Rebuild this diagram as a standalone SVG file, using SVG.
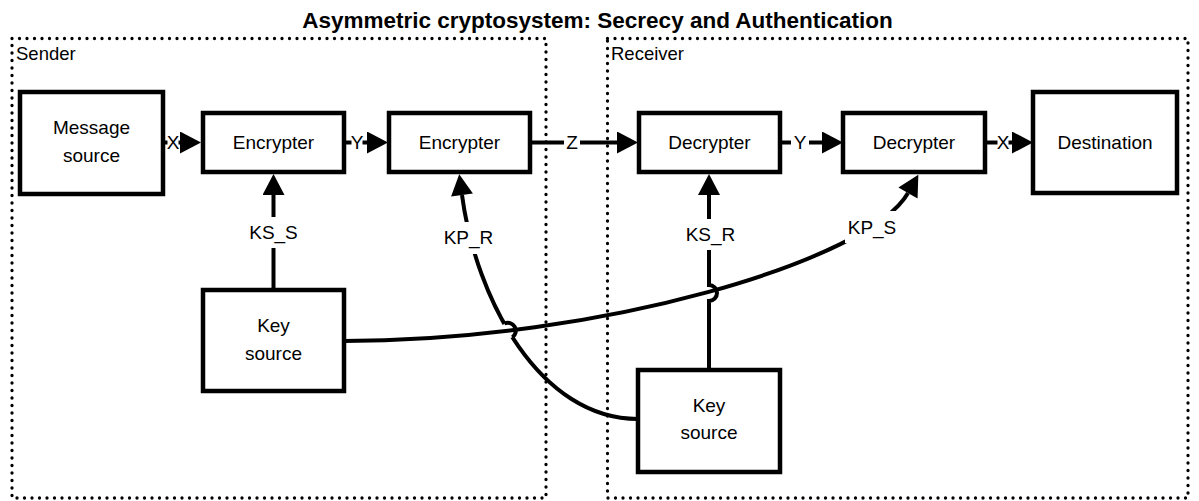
<svg xmlns="http://www.w3.org/2000/svg" width="1199" height="501" viewBox="0 0 1199 501">
<defs>
<style>
.box{fill:#fff;stroke:#000;stroke-width:4.5}
.zone{fill:none;stroke:#000;stroke-width:3.3;stroke-dasharray:0 7.5;stroke-linecap:round}
.lbl{font-family:"Liberation Sans",Arial,sans-serif;font-size:19px;fill:#000;text-anchor:middle}
.zl{font-family:"Liberation Sans",Arial,sans-serif;font-size:18.5px;fill:#000}
.title{font-family:"Liberation Sans",Arial,sans-serif;font-size:22.5px;font-weight:bold;fill:#000;text-anchor:middle}
.wire{fill:none;stroke:#000;stroke-width:4}
.bg{fill:#fff}
</style>
<marker id="ah" markerUnits="userSpaceOnUse" markerWidth="22" markerHeight="22" viewBox="0 0 21 22" refX="0" refY="11" orient="auto">
<path d="M0,0 L21,11 L0,22 z" fill="#000"/>
</marker>
<mask id="hopR" maskUnits="userSpaceOnUse" x="0" y="0" width="1199" height="501">
<rect x="0" y="0" width="1199" height="501" fill="#fff"/>
<circle cx="508.3" cy="330.4" r="7.8" fill="#000"/>
</mask>
</defs>
<rect width="1199" height="501" fill="#fff"/>
<text class="title" x="597.5" y="28">Asymmetric cryptosystem: Secrecy and Authentication</text>

<g id="sender">
<rect class="zone" x="12" y="38.5" width="534" height="459.5"/>
<text class="zl" x="16" y="60">Sender</text>
</g>
<g id="receiver">
<rect class="zone" x="607.5" y="38.5" width="580.5" height="459.5"/>
<text class="zl" x="611" y="60">Receiver</text>
</g>

<g id="connectors">
<line class="wire" x1="163" y1="142.5" x2="180" y2="142.5" marker-end="url(#ah)"/>
<line class="wire" x1="344" y1="142.5" x2="367" y2="142.5" marker-end="url(#ah)"/>
<line class="wire" x1="530" y1="142.5" x2="617" y2="142.5" marker-end="url(#ah)"/>
<line class="wire" x1="780" y1="142.5" x2="822" y2="142.5" marker-end="url(#ah)"/>
<line class="wire" x1="985" y1="142.5" x2="1012" y2="142.5" marker-end="url(#ah)"/>
<line class="wire" x1="273.5" y1="290" x2="273.5" y2="195" marker-end="url(#ah)"/>
<path class="wire" d="M709,370 L709,301 A8,8 0 0 0 709,285 L709,195" marker-end="url(#ah)"/>
<path class="wire" d="M344,341 C600,341 870,260 908,193" marker-end="url(#ah)"/>
<path class="wire" d="M638,419 C540,419 476,300 462,195" mask="url(#hopR)" marker-end="url(#ah)"/>
<path class="wire" d="M504.3,323.5 A8,8 0 0 1 512.3,337.3"/>
<rect class="bg" x="167.5" y="134" width="11" height="17"/>
<text class="lbl" x="173" y="149">X</text>
<rect class="bg" x="351.5" y="134" width="11" height="17"/>
<text class="lbl" x="357" y="149">Y</text>
<rect class="bg" x="564" y="134" width="16" height="17"/>
<text class="lbl" x="572" y="149">Z</text>
<rect class="bg" x="791" y="134" width="18" height="17"/>
<text class="lbl" x="800" y="149">Y</text>
<rect class="bg" x="997.5" y="134" width="11" height="17"/>
<text class="lbl" x="1003" y="149">X</text>
<rect class="bg" x="246" y="217" width="55" height="31"/>
<text class="lbl" x="273.5" y="238.5">KS_S</text>
<rect class="bg" x="441" y="222" width="56" height="32"/>
<text class="lbl" x="468.5" y="243.5">KP_R</text>
<rect class="bg" x="682" y="219" width="56" height="31"/>
<text class="lbl" x="710.5" y="240.5">KS_R</text>
<rect class="bg" x="845" y="211" width="54" height="32"/>
<text class="lbl" x="872" y="233.5">KP_S</text>
</g>

<g id="message-source">
<rect class="box" x="20" y="92" width="143" height="102"/>
<text class="lbl" x="91.5" y="133.5">Message</text>
<text class="lbl" x="91.5" y="162">source</text>
</g>
<g id="encrypter-1">
<rect class="box" x="203" y="113" width="141" height="59"/>
<text class="lbl" x="273.5" y="149">Encrypter</text>
</g>
<g id="encrypter-2">
<rect class="box" x="389" y="113" width="141" height="59"/>
<text class="lbl" x="459.5" y="149">Encrypter</text>
</g>
<g id="decrypter-1">
<rect class="box" x="639" y="113" width="141" height="59"/>
<text class="lbl" x="709.5" y="149">Decrypter</text>
</g>
<g id="decrypter-2">
<rect class="box" x="843" y="113" width="142" height="59"/>
<text class="lbl" x="914" y="149">Decrypter</text>
</g>
<g id="destination">
<rect class="box" x="1033" y="92" width="144" height="101"/>
<text class="lbl" x="1105" y="149">Destination</text>
</g>
<g id="key-source-1">
<rect class="box" x="203" y="290" width="141" height="101"/>
<text class="lbl" x="273.5" y="332">Key</text>
<text class="lbl" x="273.5" y="360">source</text>
</g>
<g id="key-source-2">
<rect class="box" x="638" y="370" width="142" height="102"/>
<text class="lbl" x="709" y="412">Key</text>
<text class="lbl" x="709" y="439">source</text>
</g>
</svg>
